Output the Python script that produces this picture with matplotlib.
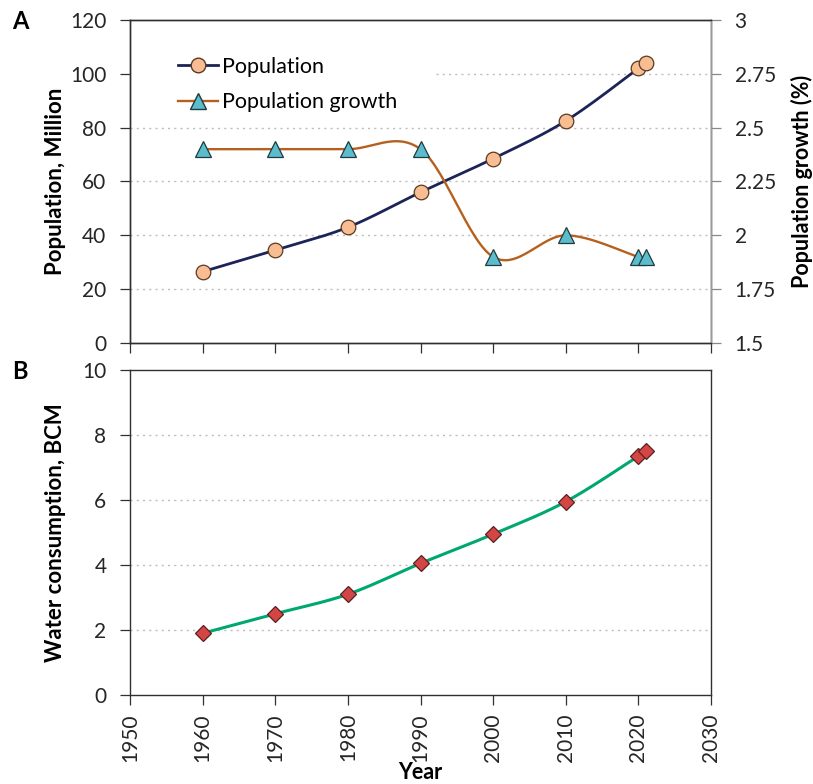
import numpy as np
import matplotlib
matplotlib.use("Agg")
import matplotlib.pyplot as plt

years = [1960, 1970, 1980, 1990, 2000, 2010, 2020, 2021]
population = [26.5, 34.5, 43.0, 56.0, 68.5, 82.5, 102.0, 104.0]
growth = [2.4, 2.4, 2.4, 2.4, 1.9, 2.0, 1.9, 1.9]
water = [1.9, 2.5, 3.1, 4.05, 4.95, 5.95, 7.35, 7.5]
x_ticks = [1950, 1960, 1970, 1980, 1990, 2000, 2010, 2020, 2030]
pop_ticks = [0, 20, 40, 60, 80, 100, 120]
growth_ticks = [1.5, 1.75, 2.0, 2.25, 2.5, 2.75, 3.0]
growth_labels = ["1.5", "1.75", "2", "2.25", "2.5", "2.75", "3"]
water_ticks = [0, 2, 4, 6, 8, 10]

plt.rcParams['font.family'] = ['Lato', 'DejaVu Sans']
plt.rcParams['font.size'] = 15


def smooth(x, y, n=30):
    # Catmull-Rom style smoothing (like Excel smoothed lines)
    x = np.asarray(x, float); y = np.asarray(y, float)
    px = np.concatenate([[x[0]], x, [x[-1]]])
    py = np.concatenate([[y[0]], y, [y[-1]]])
    xs, ys = [], []
    for i in range(1, len(px) - 2):
        p0, p1, p2, p3 = (np.array([px[j], py[j]]) for j in (i - 1, i, i + 1, i + 2))
        t = np.linspace(0, 1, n)[:, None]
        c1 = p1 + (p2 - p0) / 6
        c2 = p2 - (p3 - p1) / 6
        pts = (1 - t) ** 3 * p1 + 3 * (1 - t) ** 2 * t * c1 + 3 * (1 - t) * t ** 2 * c2 + t ** 3 * p2
        xs.append(pts[:, 0]); ys.append(pts[:, 1])
    return np.concatenate(xs), np.concatenate(ys)


fig = plt.figure(figsize=(8.13, 7.84), dpi=100)
ax1 = fig.add_axes([0.160, 0.5625, 0.7145, 0.412])
ax2 = ax1.twinx()
ax3 = fig.add_axes([0.160, 0.1135, 0.7145, 0.4145])

spine_c = '#303030'
lab_c = '#262626'
grid_kw = dict(color='#bdbdbd', linestyle=(0, (1.5, 3)), linewidth=1.0)

# Panel A
pop_c = '#1c2457'
gr_c = '#b5601e'
for v in pop_ticks[1:-1]:
    xmin = (435 - 130) / 580 if v == 100 else 0
    ax1.axhline(v, xmin=xmin, zorder=0, **grid_kw)
sx, sy = smooth(years, population)
ax1.plot(sx, sy, color=pop_c, lw=2.0, zorder=3)
ax1.plot(years, population, 'o', ms=10.5, mfc='#f8bd92', mec='#5a3a20', mew=0.9, zorder=4)
sx, sy = smooth(years, growth)
ax2.plot(sx, sy, color=gr_c, lw=1.7, zorder=3)
ax2.plot(years, growth, '^', ms=11, mfc='#5bbccb', mec='#1f3a40', mew=0.9, zorder=4)

ax1.set_xlim(1950, 2030)
ax1.set_ylim(0, 120)
ax1.set_yticks(pop_ticks)
ax1.set_xticks(x_ticks)
ax1.set_xticklabels([])
ax2.set_ylim(1.5, 3.0)
ax2.set_yticks(growth_ticks)
ax2.set_yticklabels(growth_labels)
ax1.set_ylabel('Population, Million', fontweight='bold', fontsize=16, color='black')
ax1.yaxis.set_label_coords((66 - 130) / 580, 0.5)
ax2.set_ylabel('Population growth (%)', fontweight='bold', fontsize=15.5, color='black')
ax2.yaxis.set_label_coords((790 - 130) / 580, 0.5)
for a in (ax1, ax2):
    for s in a.spines.values():
        s.set_color(spine_c); s.set_linewidth(1.0)
    a.tick_params(direction='out', length=7, color=spine_c, labelcolor=lab_c, width=0.9)
ax1.tick_params(axis='y', pad=10)
ax2.tick_params(axis='y', pad=10, color='#888888')
ax2.spines['right'].set_color('#999999')

h1 = plt.Line2D([], [], color=pop_c, lw=2.0, marker='o', ms=10.5, mfc='#f8bd92', mec='#5a3a20')
h2 = plt.Line2D([], [], color=gr_c, lw=1.7, marker='^', ms=11, mfc='#5bbccb', mec='#1f3a40')
leg = ax2.legend([h1, h2], ['Population', 'Population growth'], loc='upper left',
                 bbox_to_anchor=((178 - 130) / 580, (343 - 57) / 323), frameon=False,
                 fontsize=15.5, handlelength=1.85, handletextpad=0.2, borderpad=0,
                 borderaxespad=0, labelspacing=0.7)

# Panel B
for v in water_ticks[1:-1]:
    ax3.axhline(v, zorder=0, **grid_kw)
sx, sy = smooth(years, water)
ax3.plot(sx, sy, color='#00a870', lw=2.2, zorder=3)
ax3.plot(years, water, 'D', ms=8.5, mfc='#d44545', mec='#5a2020', mew=0.9, zorder=4)
ax3.set_xlim(1950, 2030)
ax3.set_ylim(0, 10)
ax3.set_yticks(water_ticks)
ax3.set_xticks(x_ticks)
ax3.set_xticklabels([str(t) for t in x_ticks], rotation=90)
ax3.set_ylabel('Water consumption, BCM', fontweight='bold', fontsize=16, color='black')
ax3.yaxis.set_label_coords((66 - 130) / 580, 0.5)
ax3.set_xlabel('Year', fontweight='bold', fontsize=15.5, color='black')
ax3.xaxis.set_label_coords(0.5, -(772 - 695) / 325)
ax3.xaxis.label.set_va('center')
for s in ax3.spines.values():
    s.set_color(spine_c); s.set_linewidth(1.0)
ax3.tick_params(direction='out', length=7, color=spine_c, labelcolor=lab_c, width=0.9)
ax3.tick_params(axis='y', pad=10)
ax3.tick_params(axis='x', pad=6)

fig.text(0.015, 0.972, 'A', fontsize=17, fontweight='bold', va='center')
fig.text(0.015, 0.526, 'B', fontsize=17, fontweight='bold', va='center')

fig.savefig('out.png', dpi=100)
